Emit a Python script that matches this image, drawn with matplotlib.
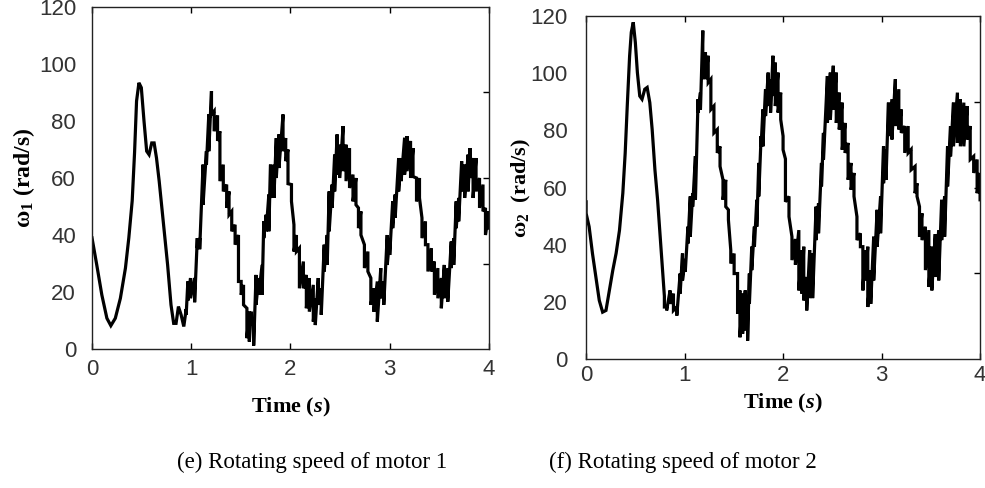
import numpy as np
import matplotlib
matplotlib.use("Agg")
import matplotlib.pyplot as plt
from matplotlib.ticker import FixedLocator

# Fuentes: serif en negrita para los rotulos, sans para los numeros
plt.rcParams["mathtext.fontset"] = "custom"
plt.rcParams["mathtext.rm"] = "Liberation Serif:bold"
plt.rcParams["mathtext.bf"] = "Liberation Serif:bold"
plt.rcParams["mathtext.it"] = "Liberation Serif:italic:bold"

# Motor 1: tiempo, envolvente superior e inferior (rad/s)
t1 = [0.00, 0.048, 0.099, 0.150, 0.190, 0.235, 0.286, 0.337, 0.371, 0.405,
      0.429, 0.449, 0.473, 0.497, 0.524, 0.551, 0.575, 0.602, 0.626, 0.650,
      0.677, 0.701, 0.728, 0.762, 0.796, 0.823, 0.847, 0.871, 0.898, 0.925,
      0.949, 0.966, 0.993, 1.034, 1.061, 1.085, 1.119, 1.153, 1.177, 1.204,
      1.231, 1.265, 1.289, 1.323, 1.357, 1.381, 1.408, 1.442, 1.476, 1.503,
      1.527, 1.561, 1.585, 1.605, 1.629, 1.653, 1.680, 1.714, 1.731, 1.755,
      1.782, 1.799, 1.833, 1.857, 1.884, 1.925, 1.952, 1.975, 2.01, 2.035,
      2.06, 2.09, 2.13, 2.16, 2.19, 2.23, 2.25, 2.28, 2.31, 2.34,
      2.37, 2.39, 2.42, 2.445, 2.47, 2.495, 2.53, 2.56, 2.595, 2.63,
      2.66, 2.685, 2.71, 2.745, 2.78, 2.81, 2.84, 2.875, 2.91, 2.94,
      2.975, 3.00, 3.03, 3.055, 3.09, 3.115, 3.15, 3.175, 3.21, 3.235,
      3.27, 3.30, 3.325, 3.36, 3.385, 3.42, 3.45, 3.485, 3.52, 3.55,
      3.585, 3.62, 3.645, 3.67, 3.695, 3.725, 3.755, 3.79, 3.81, 3.84,
      3.87, 3.905, 3.94, 3.965, 4.00]
w1_hi = [39, 29.5, 19, 10.8, 8.2, 10.8, 17.8, 28.4, 39, 52,
         69, 87, 93.4, 91.7, 80, 69.4, 68.2, 72.3, 72.3, 67,
         58.9, 50.6, 41.3, 29.5, 15.5, 9, 9, 14.9, 12, 7.9,
         14, 23.7, 24.9, 24.9, 38.9, 38.9, 64.7, 69.4, 82.3, 90.5,
         83.5, 82, 76.4, 64.7, 57.7, 55.3, 48.3, 43.6, 40, 23.7,
         22.5, 14.3, 13.1, 13.1, 9.6, 26, 24.9, 29.5, 44.8, 47.1,
         54.2, 64.7, 64.7, 74, 75.3, 82.3, 74, 70, 57.7, 43.6,
         40, 35.4, 30.7, 26, 24.9, 22.5, 17.8, 24.9, 21.3, 36.6,
         40, 55.3, 57.7, 68.2, 75.3, 71.7, 78.2, 71.7, 70.5, 61.2,
         60, 49.5, 48.3, 36.6, 34.2, 24.9, 21.3, 23.7, 28.4, 23.7,
         40, 38.9, 51.8, 54.2, 67, 67, 74.1, 74.7, 73, 70.5,
         60, 60, 46, 44.8, 36.6, 35.4, 30.7, 28.4, 24.9, 29.5,
         28.4, 37.7, 38.9, 51.8, 53, 65.9, 64.7, 68.2, 70.5, 67,
         67, 60, 57.7, 49.5, 48.3]
w1_lo = [39, 29.5, 19, 10.8, 8.2, 10.8, 17.8, 28.4, 39, 52,
         69, 87, 93.4, 91.7, 80, 69.4, 68.2, 72.3, 72.3, 67,
         58.9, 50.6, 41.3, 29.5, 15.5, 9, 9, 14.9, 12, 7.9,
         12, 17, 17.8, 16.4, 35.4, 35, 50.6, 64.7, 69.4, 82.3,
         76.4, 73, 58.9, 55.3, 49.5, 47.1, 41.3, 36.6, 23.7, 19,
         15.5, 3.8, 2.6, 8.4, 1.2, 15.5, 19, 19, 38.9, 41.3,
         41.3, 53, 53, 60, 63.5, 69.4, 65.9, 58, 51.8, 34.2,
         34.2, 21.3, 21.3, 14.3, 13.1, 9.6, 8.4, 15.5, 12, 27.2,
         29.5, 41.3, 49.5, 55.3, 61.2, 60, 62.4, 58.9, 56.5, 51.8,
         50.6, 42.4, 40, 28.4, 27.2, 15.5, 13.1, 9.6, 17.8, 15.5,
         29.5, 33, 42.4, 46, 55.3, 58.9, 61.2, 62.4, 60, 60.5,
         51.8, 53, 38.9, 36.6, 27.2, 27.2, 19, 17.8, 14.3, 17.8,
         16.6, 28.4, 29.5, 42.4, 44.8, 55.3, 53, 55.3, 60, 53,
         55.3, 49.5, 48.3, 40, 42.4]

# Motor 2: tiempo, envolvente superior e inferior (rad/s)
t2 = [0.00, 0.031, 0.065, 0.099, 0.134, 0.168, 0.202, 0.236, 0.271, 0.305,
      0.339, 0.373, 0.397, 0.418, 0.442, 0.459, 0.479, 0.500, 0.521, 0.545,
      0.568, 0.596, 0.620, 0.647, 0.671, 0.699, 0.726, 0.750, 0.774, 0.795,
      0.818, 0.853, 0.887, 0.921, 0.955, 0.979, 1.007, 1.034, 1.058, 1.082,
      1.110, 1.137, 1.161, 1.185, 1.212, 1.240, 1.267, 1.298, 1.332, 1.360,
      1.390, 1.418, 1.445, 1.469, 1.503, 1.538, 1.562, 1.589, 1.616, 1.640,
      1.658, 1.682, 1.709, 1.733, 1.753, 1.777, 1.795, 1.822, 1.849, 1.873,
      1.897, 1.921, 1.949, 1.976, 2.00, 2.024, 2.06, 2.09, 2.125, 2.16,
      2.19, 2.21, 2.24, 2.27, 2.30, 2.335, 2.36, 2.39, 2.41, 2.45,
      2.48, 2.51, 2.54, 2.57, 2.60, 2.63, 2.66, 2.69, 2.72, 2.75,
      2.785, 2.81, 2.835, 2.86, 2.89, 2.92, 2.955, 2.99, 3.02, 3.045,
      3.07, 3.105, 3.14, 3.175, 3.20, 3.235, 3.27, 3.30, 3.34, 3.36,
      3.385, 3.41, 3.445, 3.48, 3.51, 3.545, 3.58, 3.61, 3.64, 3.67,
      3.70, 3.73, 3.77, 3.80, 3.835, 3.87, 3.90, 3.935, 3.97, 4.00]
w2_hi = [55, 46.3, 36.9, 28.7, 20.5, 16.4, 17, 24, 31, 37,
         45, 58, 72, 88.5, 106, 114.3, 117.8, 110.8, 100.2, 92,
         90.9, 94.4, 95, 89.7, 80.3, 66.2, 55.7, 44, 32.2, 22,
         18.2, 24, 22.9, 18.2, 29.9, 36.9, 35, 46.3, 56.9, 58,
         71, 90.9, 93.2, 114.9, 107.3, 106.1, 97.9, 88.5, 80.3, 74.4,
         62.7, 62.7, 52.2, 38.1, 36.9, 29.9, 24, 22.9, 24, 20.5,
         29.9, 39.3, 46.3, 55.7, 68.6, 78, 87.3, 94.4, 100.2, 97.9,
         106.1, 103.7, 100.2, 93.2, 78, 70, 56.9, 42.8, 42, 45.1,
         38.1, 39.3, 28.7, 38.1, 36.9, 53.3, 54.5, 68.6, 79.1, 99,
         100.2, 102.6, 100.2, 93.2, 89.7, 82.6, 75.6, 68.6, 65.1, 49.8,
         44, 39.3, 38.1, 39.3, 31.1, 42.8, 52.2, 56.9, 74.4, 73.3,
         89.7, 90.9, 97.9, 94.4, 87.3, 81.5, 81.5, 73.3, 67.4, 61.5,
         53.3, 51, 46.3, 45.1, 39.3, 43.7, 45.1, 55.7, 56.9, 74.4,
         81.5, 89.7, 93.2, 90.9, 89.7, 88.5, 81.5, 70.9, 69.8, 65.1]
w2_lo = [51, 46.3, 36.9, 28.7, 20.5, 16.4, 17, 24, 31, 37,
         45, 58, 72, 88.5, 106, 114.3, 117.8, 110.8, 100.2, 92,
         90.9, 94.4, 95, 89.7, 80.3, 66.2, 55.7, 44, 32.2, 18.2,
         17, 19.3, 17, 15.2, 22.9, 27.5, 30.5, 40.4, 42.8, 53.3,
         55.7, 86.2, 87.3, 97.9, 97.9, 96.7, 87.3, 79.1, 72.1, 67.4,
         55.7, 53.3, 48.7, 33.4, 29.9, 15.8, 7.6, 8.8, 10, 6.4,
         19.3, 31.1, 39.3, 46.3, 56.9, 74.4, 74.4, 85, 88.5, 86.2,
         92, 88.5, 86.2, 83.8, 73.2, 55, 49.8, 34.6, 33, 24,
         22.9, 20.5, 17, 21.3, 21.3, 41.6, 44, 60.4, 69.8, 82.6,
         83.8, 87.3, 82.6, 80.3, 73.2, 72.1, 62.7, 59.2, 56.9, 41.6,
         39.3, 24, 27.5, 18.2, 19.3, 27.5, 39.3, 44, 61.5, 62.7,
         78, 76.8, 81.5, 80.3, 79.1, 72.1, 72.1, 66.2, 58, 56.9,
         42.8, 41.6, 31.1, 25.2, 24, 28.7, 27.5, 41.6, 42.8, 60.4,
         70.9, 74.4, 75.6, 74.4, 74.4, 76.8, 69.8, 65.1, 58, 55.7]

xticks = [0, 1, 2, 3, 4]
yticks = [0, 20, 40, 60, 80, 100, 120]
rticks = [30, 60, 90]

fig = plt.figure(figsize=(9.85, 4.88), dpi=100)
ax1 = fig.add_axes([0.0934, 0.2848, 0.403, 0.7009])
ax2 = fig.add_axes([0.595, 0.2643, 0.400, 0.7029])


def dibujar(ax, t, hi, lo, ylab, ypad, xpad, ylab_pos, xlab_pos, ysize):
    # la senal oscila entre las dos envolventes leidas
    x = np.repeat(t, 2)
    y = np.column_stack([hi, lo]).ravel()
    ax.plot(x, y, color="black", lw=2.3, solid_joinstyle="miter")
    ax.set_xlim(0, 4)
    ax.set_ylim(0, 120)
    ax.set_xticks(xticks)
    ax.set_yticks(yticks)
    ax.yaxis.set_minor_locator(FixedLocator(rticks))
    ax.yaxis.remove_overlapping_locs = False
    ax.tick_params(axis="x", direction="in", top=True, length=4, width=1,
                   pad=xpad, labelsize=16, labelcolor="#333333")
    ax.tick_params(axis="y", which="major", left=False, right=False, pad=ypad,
                   labelsize=16, labelcolor="#333333")
    ax.tick_params(axis="y", which="minor", left=False, right=True,
                   direction="in", length=4, width=1)
    for lab in ax.get_xticklabels() + ax.get_yticklabels():
        lab.set_fontfamily("Liberation Sans")
    for s in ax.spines.values():
        s.set_linewidth(1.0)
        s.set_color("#222222")
    ax.set_ylabel(ylab, fontsize=ysize, fontfamily="Liberation Serif",
                  fontweight="bold", va="center")
    ax.yaxis.set_label_coords(*ylab_pos)
    ax.set_xlabel("Time ($s$)", fontsize=16, fontfamily="Liberation Serif",
                  fontweight="bold", va="center")
    ax.xaxis.set_label_coords(*xlab_pos)


dibujar(ax1, t1, w1_hi, w1_lo, r"$\mathrm{\omega}_1$ (rad/s)", 8, 7,
        (-0.171, 0.5), (0.5, -0.172), 17)
dibujar(ax2, t2, w2_hi, w2_lo, r"$\mathrm{\omega}_2$  (rad/s)", 10, 4,
        (-0.165, 0.5), (0.5, -0.13), 16)

# Pies de figura
fig.text(312 / 985, 1 - 462 / 488, "(e) Rotating speed of motor 1",
         fontsize=16.5, fontfamily="Liberation Serif", ha="center", va="center")
fig.text(683 / 985, 1 - 462 / 488, "(f) Rotating speed of motor 2",
         fontsize=16.5, fontfamily="Liberation Serif", ha="center", va="center")

fig.savefig("out.png", dpi=100)
